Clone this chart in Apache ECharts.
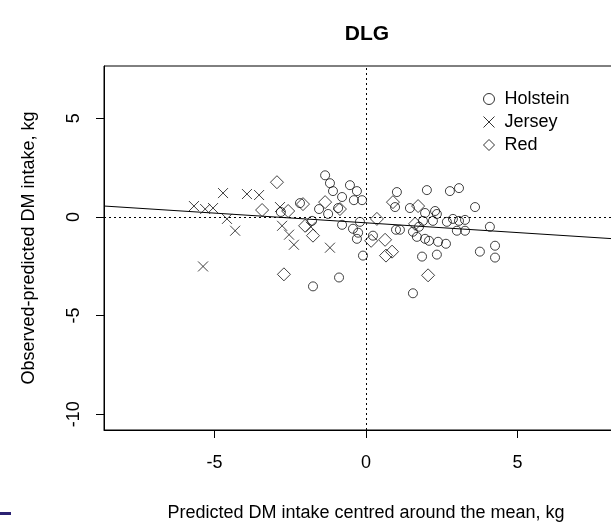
<!DOCTYPE html>
<html>
<head>
<meta charset="utf-8">
<script src="https://cdn.jsdelivr.net/npm/echarts@6/dist/echarts.min.js"></script>
<style>html,body{margin:0;padding:0;background:#fff;overflow:hidden;width:611px;height:527px}#c{width:628px;height:527px}</style>
</head>
<body>
<div id="c"></div>
<script>
// ---- data (x = predicted DM intake centred, y = observed - predicted) ----
const holsteinX = [-1.35,-1.19,-1.09,-0.53,-0.30,-0.79,-0.40,-0.13,-0.92,-1.55,-2.18,-2.81,-1.78,-1.25,-0.79,-0.43,-0.26,-0.30,-0.20,0.23,-0.10,-0.89,-1.75,1.02,0.96,0.99,1.12,1.45,1.55,1.68,1.95,1.85,1.55,2.01,1.95,1.88,1.75,2.77,3.07,3.60,2.28,2.34,2.21,2.67,2.87,3.07,3.27,3.00,3.27,4.09,2.08,2.38,2.64,3.76,4.26,4.26,2.34];
const holsteinY = [2.11,1.71,1.31,1.61,1.31,1.01,0.85,0.85,0.45,0.40,0.70,0.25,-0.20,0.15,-0.40,-0.60,-0.80,-1.11,-0.25,-0.95,-1.96,-3.07,-3.52,1.26,0.50,-0.65,-0.65,0.45,-0.75,-1.01,-1.11,-2.01,-3.87,1.36,0.20,-0.20,-0.50,1.31,1.46,0.50,0.30,0.15,-0.20,-0.25,-0.10,-0.20,-0.15,-0.70,-0.70,-0.50,-1.21,-1.26,-1.36,-1.76,-1.46,-2.06,-1.91];
const jerseyX = [-5.68,-5.31,-5.05,-4.72,-3.93,-3.53,-4.59,-4.32,-5.38,-2.84,-2.77,-2.54,-2.38,-1.19,-1.82];
const jerseyY = [0.55,0.40,0.45,1.21,1.16,1.11,-0.10,-0.70,-2.51,0.50,-0.45,-0.90,-1.41,-1.56,-0.50];
const redX = [-3.43,-2.94,-2.57,-2.08,-2.01,-1.75,-1.35,-0.86,-2.71,0.36,0.17,0.63,0.66,0.86,0.89,1.72,1.62,2.05];
const redY = [0.35,1.76,0.30,0.65,-0.45,-0.95,0.75,0.40,-2.91,-0.10,-1.21,-1.16,-1.96,-1.76,0.75,0.55,-0.35,-2.96];
// regression fit: [intercept, slope]
const fitParams = [-0.30, -0.0986];
const xTicks = [-5, 0, 5];
const yTicks = [-10, -5, 0, 5];
const xLim = [-8.65, 8.65];
const yLim = [-10.8, 7.65];
const seriesNames = ['Holstein', 'Jersey', 'Red'];

const zip = (a, b) => a.map((v, i) => [v, b[i]]);
const crossPath = 'path://M0,0L10,10M10,0L0,10';
const fitLine = xLim.map(x => [x, fitParams[0] + fitParams[1] * x]);
const FONT = 'Liberation Sans, Arial, sans-serif';

const pointStyle = { color: 'rgba(0,0,0,0)', borderColor: '#111', borderWidth: 1 };
const legendStyle = { color: 'rgba(0,0,0,0)', borderColor: '#000', borderWidth: 1 };

const chart = echarts.init(document.getElementById('c'), null, { renderer: 'canvas' });
chart.setOption({
  animation: false,
  backgroundColor: '#fff',
  title: {
    text: 'DLG', left: 362, top: 19, textAlign: 'center',
    textStyle: { fontFamily: FONT, fontSize: 21, fontWeight: 'bold', color: '#000' }
  },
  grid: { left: 104, top: 66, bottom: 87, right: 0, show: true, borderColor: '#000', borderWidth: 1, backgroundColor: 'transparent' },
  legend: {
    orient: 'vertical', left: 478, top: 84, itemWidth: 11, itemHeight: 11, itemGap: 3,
    textStyle: { fontFamily: FONT, fontSize: 18, color: '#000', lineHeight: 20, padding: [0, 0, 0, 5] },
    data: [
      { name: seriesNames[0], icon: 'circle', itemStyle: legendStyle },
      { name: seriesNames[1], icon: crossPath, itemStyle: legendStyle },
      { name: seriesNames[2], icon: 'diamond', itemStyle: legendStyle }
    ]
  },
  xAxis: {
    type: 'value', min: xLim[0], max: xLim[1],
    name: 'Predicted DM intake centred around the mean, kg', nameLocation: 'middle', nameGap: 74,
    nameTextStyle: { fontFamily: FONT, fontSize: 18, color: '#000' },
    axisLine: { show: true, onZero: false, lineStyle: { color: '#000', width: 1 } },
    axisTick: { show: true, length: 8, customValues: xTicks, lineStyle: { color: '#000' } },
    axisLabel: { customValues: xTicks, margin: 24, fontFamily: FONT, fontSize: 18, color: '#000' },
    splitLine: { show: false }
  },
  yAxis: {
    type: 'value', min: yLim[0], max: yLim[1],
    name: 'Observed-predicted DM intake, kg', nameLocation: 'middle', nameGap: 66,
    nameTextStyle: { fontFamily: FONT, fontSize: 18, color: '#000' },
    axisLine: { show: true, onZero: false, lineStyle: { color: '#000', width: 1 } },
    axisTick: { show: true, length: 8, customValues: yTicks, lineStyle: { color: '#000' } },
    axisLabel: { customValues: yTicks, rotate: 90, margin: 21, fontFamily: FONT, fontSize: 18, color: '#000' },
    splitLine: { show: false }
  },
  series: [
    {
      name: seriesNames[0], type: 'scatter', symbol: 'circle', symbolSize: 9,
      itemStyle: pointStyle, data: zip(holsteinX, holsteinY), z: 3
    },
    {
      name: seriesNames[1], type: 'scatter', symbol: crossPath, symbolSize: 10,
      itemStyle: pointStyle, data: zip(jerseyX, jerseyY), z: 3
    },
    {
      name: seriesNames[2], type: 'scatter', symbol: 'diamond', symbolSize: 13,
      itemStyle: pointStyle, data: zip(redX, redY), z: 3
    },
    {
      name: 'fit', type: 'line', data: fitLine, symbol: 'none', silent: true,
      lineStyle: { color: '#000', width: 1 }, z: 2,
      markLine: {
        silent: true, symbol: 'none', label: { show: false },
        lineStyle: { color: '#000', width: 1, type: [2, 3] },
        data: [{ xAxis: 0 }, { yAxis: 0 }]
      }
    }
  ],
  graphic: [
    { type: 'rect', shape: { x: 0, y: 512, width: 11, height: 3 }, style: { fill: '#2b2272' } }
  ]
});
</script>
</body>
</html>
